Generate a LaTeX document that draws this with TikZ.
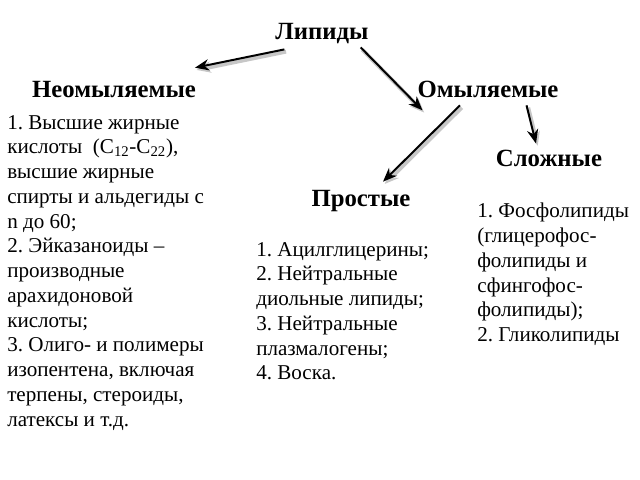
\documentclass[tikz,border=0pt]{standalone}
\usepackage{fontspec}
\setmainfont{Liberation Serif}
\frenchspacing
\usetikzlibrary{arrows.meta}
\tikzstyle{head} = [font=\bfseries\fontsize{17.6}{20}\selectfont, anchor=base, inner sep=2pt]
\tikzstyle{list} = [font=\fontsize{15}{17.6}\selectfont, align=left, anchor=north west, inner sep=0pt]
\tikzstyle{link} = [-{Stealth[length=10pt,width=8pt]}, line width=1.4pt,
  preaction={draw=black!22, line width=2.8pt, transform canvas={shift={(1.2pt,-1.6pt)}}}]

\begin{document}
\begin{tikzpicture}[x=0.025cm,y=-0.025cm]
	\useasboundingbox (0,0) rectangle (640,480);
	% put the headings where we want them
	\node [head] (lip) at (322,39) {Липиды};
	\node [head] (neo) at (114,97) {Неомыляемые};
	\node [head] (omy) at (488,97) {Омыляемые};
	\node [head] (slo) at (549,166) {Сложные};
	\node [head] (pro) at (361,206) {Простые};

	% the lists under them
	\node [list] (neolist) at (7,115) {1. Высшие жирные\\
		кислоты~ (C\textsubscript{12}-C\textsubscript{22}),\\
		высшие жирные\\
		спирты и альдегиды с\\
		n до 60;\\
		2. Эйказаноиды –\\
		производные\\
		арахидоновой\\
		кислоты;\\
		3. Олиго- и полимеры\\
		изопентена, включая\\
		терпены, стероиды,\\
		латексы и т.д.};
	\node [list] (prolist) at (256,242) {1. Ацилглицерины;\\
		2. Нейтральные\\
		диольные липиды;\\
		3. Нейтральные\\
		плазмалогены;\\
		4. Воска.};
	\node [list] (slolist) at (477,203) {1. Фосфолипиды\\
		(глицерофос-\\
		фолипиды и\\
		сфингофос-\\
		фолипиды);\\
		2. Гликолипиды};

	% draw the arrows
	\draw [link] ([shift={(12,3)}]lip.south west) -- ([shift={(-4,-10)}]neo.north east);
	\draw [link] ([shift={(-11,1)}]lip.south east) -- ([shift={(8,10)}]omy.south west);
	\draw [link] ([shift={(-28,5)}]omy.south) -- ([shift={(22,-5)}]pro.north);
	\draw [link] ([shift={(-35,5)}]omy.south east) -- ([shift={(-13,-3)}]slo.north);
\end{tikzpicture}
\end{document}
